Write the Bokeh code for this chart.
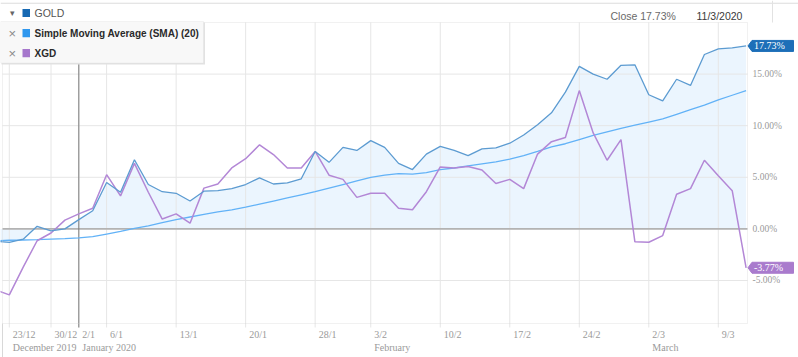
from bokeh.plotting import figure
from bokeh.models import (Range1d, BoxAnnotation, Label, LabelSet, ColumnDataSource,
                          PolyAnnotation)
from bokeh.embed import file_html
from bokeh.resources import INLINE

# ---------------- data ----------------
days = ["20/12", "23/12", "24/12", "27/12", "30/12", "31/12", "2/1", "3/1", "6/1", "7/1",
        "8/1", "9/1", "10/1", "13/1", "14/1", "15/1", "16/1", "17/1", "20/1", "21/1",
        "22/1", "23/1", "24/1", "28/1", "29/1", "30/1", "31/1", "3/2", "4/2", "5/2",
        "6/2", "7/2", "10/2", "11/2", "12/2", "13/2", "14/2", "17/2", "18/2", "19/2",
        "20/2", "21/2", "24/2", "25/2", "26/2", "27/2", "28/2", "2/3", "3/3", "4/3",
        "5/3", "6/3", "9/3", "10/3", "11/3"]

gold = [-1.2, -1.3, -1.0, 0.25, -0.2, 0.0, 0.9, 1.75, 4.5, 3.55,
        6.7, 4.3, 3.6, 3.45, 2.7, 3.65, 3.7, 3.9, 4.3, 4.95,
        4.35, 4.45, 4.85, 7.5, 6.45, 7.9, 7.6, 8.55, 7.9, 6.35,
        5.75, 7.25, 8.0, 7.6, 7.1, 7.75, 7.85, 8.3, 9.1, 10.1,
        11.25, 13.25, 15.75, 15.0, 14.5, 15.85, 15.9, 13.0, 12.4, 14.5,
        13.9, 16.9, 17.45, 17.55, 17.73]

sma = [-1.15, -1.1, -1.08, -1.05, -1.0, -0.95, -0.88, -0.75, -0.5, -0.25,
       0.05, 0.3, 0.6, 0.9, 1.15, 1.4, 1.65, 1.85, 2.1, 2.4,
       2.7, 3.0, 3.3, 3.6, 3.95, 4.3, 4.65, 5.0, 5.2, 5.35,
       5.3, 5.45, 5.75, 5.9, 6.1, 6.3, 6.5, 6.75, 7.1, 7.5,
       7.95, 8.25, 8.65, 9.05, 9.4, 9.75, 10.05, 10.35, 10.65, 11.1,
       11.55, 12.0, 12.5, 12.95, 13.4]

xgd = [-5.9, -6.4, -3.7, -1.15, -0.4, 0.85, 1.45, 2.0, 5.25, 3.2,
       6.35, 3.55, 0.95, 1.45, 0.55, 3.95, 4.35, 5.9, 6.8, 8.15,
       7.2, 5.9, 5.9, 7.5, 5.2, 4.8, 3.05, 3.45, 3.45, 2.0,
       1.85, 3.6, 6.0, 5.9, 6.05, 5.7, 4.4, 4.8, 3.9, 7.25,
       8.45, 8.85, 13.4, 9.3, 6.65, 8.65, -1.25, -1.3, -0.65, 3.35,
       3.9, 6.65, 5.15, 3.7, -3.77]

tick_days = ["23/12", "30/12", "2/1", "6/1", "13/1", "20/1", "28/1", "3/2",
             "10/2", "17/2", "24/2", "2/3", "9/3"]
month_days = ["23/12", "2/1", "3/2", "2/3"]
month_labels = ["December 2019", "January 2020", "February", "March"]
y_ticks = [-5, 0, 5, 10, 15]
series_names = ["GOLD", "Simple Moving Average (SMA) (20)", "XGD"]
close_text = "Close 17.73%"
date_text = "11/3/2020"
crosshair_day = "2/1"

# ---------------- layout constants ----------------
W, H = 798, 357
PL, PR, PT, PB = 2, 747, 22, 323            # plot area edges on the canvas (px)
X_LEFT, X_RIGHT = 0.51, 54.1                # data bounds of the plot area
Y_BOT, Y_TOP = -9.17, 20.0

ppx = (PR - PL) / (X_RIGHT - X_LEFT)
ppy = (PB - PT) / (Y_TOP - Y_BOT)
x_start = X_LEFT - PL / ppx
x_end = X_RIGHT + (W - PR) / ppx
y_end = Y_TOP + PT / ppy
y_start = Y_BOT - (H - PB) / ppy

GOLD_C, SMA_C, XGD_C = "#5c9bd1", "#62b2f7", "#b387d6"
GOLD_SQ, SMA_SQ, XGD_SQ = "#1769b3", "#2f97ee", "#a677cc"
GRID_C = "#e6e6e6"
SANS = "Liberation Sans"
SERIF = "Liberation Serif"


def sx(xc):
    return xc


def sy(yc):
    return H - yc


def box(l, r, t, b, **kw):
    return BoxAnnotation(left=sx(l), right=sx(r), top=sy(t), bottom=sy(b),
                         left_units="screen", right_units="screen",
                         top_units="screen", bottom_units="screen", **kw)


idx = list(range(len(days)))
tick_idx = [days.index(d) for d in tick_days]

p = figure(width=W, height=H, output_backend="svg", toolbar_location=None,
           x_range=Range1d(x_start, x_end), y_range=Range1d(y_start, y_end),
           x_axis_location=None, y_axis_location=None,
           min_border_left=0, min_border_right=0, min_border_top=0, min_border_bottom=0)
p.background_fill_color = "white"
p.border_fill_color = "white"
p.outline_line_color = None
p.xgrid.visible = False
p.ygrid.visible = False

# ---------------- area + grid ----------------
p.varea(x=idx, y1=0, y2=gold, fill_color="#ebf5fe", fill_alpha=1.0)

tick_bottom = Y_BOT - 4 / ppy
p.segment(x0=tick_idx, y0=[tick_bottom] * len(tick_idx), x1=tick_idx,
          y1=[Y_TOP] * len(tick_idx), line_color=GRID_C, line_width=1)
p.segment(x0=[X_LEFT] * len(y_ticks), y0=y_ticks, x1=[X_RIGHT] * len(y_ticks),
          y1=y_ticks, line_color=GRID_C, line_width=1)
# zero line
p.segment(x0=[X_LEFT], y0=[0], x1=[X_RIGHT], y1=[0], line_color="#b3b3b3", line_width=1.6)
# crosshair
ci = days.index(crosshair_day)
p.segment(x0=[ci], y0=[tick_bottom], x1=[ci], y1=[Y_TOP], line_color="#7a7a7a", line_width=1)

# ---------------- series ----------------
p.line(idx, sma, line_color=SMA_C, line_width=1.3)
p.line(idx, xgd, line_color=XGD_C, line_width=1.5)
p.line(idx, gold, line_color=GOLD_C, line_width=1.3)

# plot frame
p.add_layout(BoxAnnotation(left=X_LEFT, right=X_RIGHT, top=Y_TOP, bottom=Y_BOT,
                           fill_alpha=0, line_color="#cfcfcf", line_width=1))
# left page border continues below axis
p.segment(x0=[X_LEFT], y0=[y_start], x1=[X_LEFT], y1=[Y_BOT], line_color="#d8d8d8")

# ---------------- y labels ----------------
yl = ColumnDataSource(dict(x=[X_RIGHT] * len(y_ticks), y=y_ticks,
                           t=["%.2f%%" % v for v in y_ticks]))
p.add_layout(LabelSet(x="x", y="y", text="t", source=yl, x_offset=5,
                      text_font=SERIF, text_font_size="9.5px", text_color="#9a9a9a",
                      text_baseline="middle", text_align="left"))

# ---------------- x labels ----------------
xl = ColumnDataSource(dict(x=tick_idx, y=[Y_BOT] * len(tick_idx), t=tick_days))
p.add_layout(LabelSet(x="x", y="y", text="t", source=xl, x_offset=3.5, y_offset=-11,
                      text_font=SERIF, text_font_size="10px", text_color="#9a9a9a",
                      text_baseline="middle", text_align="left"))
ml = ColumnDataSource(dict(x=[days.index(d) for d in month_days],
                           y=[Y_BOT] * len(month_days), t=month_labels))
p.add_layout(LabelSet(x="x", y="y", text="t", source=ml, x_offset=3.5, y_offset=-23.5,
                      text_font=SERIF, text_font_size="10px", text_color="#9a9a9a",
                      text_baseline="middle", text_align="left"))

# ---------------- value tags ----------------
for val, col in [(gold[-1], "#1d6fb8"), (xgd[-1], "#a97bcd")]:
    xs = [X_RIGHT + 0.5 / ppx, X_RIGHT + 4.5 / ppx, X_RIGHT + 46 / ppx,
          X_RIGHT + 46 / ppx, X_RIGHT + 4.5 / ppx]
    ys = [val, val + 5.5 / ppy, val + 5.5 / ppy, val - 5.5 / ppy, val - 5.5 / ppy]
    p.add_layout(PolyAnnotation(xs=xs, ys=ys, fill_color=col, fill_alpha=1.0,
                                line_color=col, line_alpha=1.0))
    p.add_layout(Label(x=X_RIGHT, y=val, x_offset=6.5, text="%.2f%%" % val,
                       text_color="white", text_font=SERIF, text_font_size="10px",
                       text_baseline="middle", text_align="left"))

# ---------------- header ----------------
p.add_layout(box(0, W, 2.3, 3.3, fill_color="#dcdcdc", fill_alpha=1.0, line_color=None))
p.add_layout(box(771.5, 772.5, 0, PT, fill_color="#e2e2e2", fill_alpha=1.0, line_color=None))
p.add_layout(Label(x=sx(9), y=sy(12.5), x_units="screen", y_units="screen", text="▾",
                   text_font=SANS, text_font_size="9px", text_color="#666666",
                   text_baseline="middle"))
p.add_layout(box(22, 29.5, 8.5, 16.5, fill_color=GOLD_SQ, fill_alpha=1.0, line_color=None))
p.add_layout(Label(x=sx(34), y=sy(12.7), x_units="screen", y_units="screen",
                   text=series_names[0], text_font=SANS, text_font_size="10.5px",
                   text_color="#555555", text_baseline="middle"))
p.add_layout(Label(x=sx(610), y=sy(15), x_units="screen", y_units="screen",
                   text=close_text, text_font=SANS, text_font_size="10.5px",
                   text_color="#6a6a6a", text_baseline="middle"))
p.add_layout(Label(x=sx(696), y=sy(15), x_units="screen", y_units="screen",
                   text=date_text, text_font=SANS, text_font_size="10.5px",
                   text_color="#3a3a3a", text_baseline="middle"))

# legend box (with soft shadow)
p.add_layout(box(1, 204.5, 22, 64, fill_color="#e2e2e2", fill_alpha=1.0, line_color=None))
p.add_layout(box(0, 203, 21, 62.5, fill_color="#f8f8f8", fill_alpha=1.0,
                 line_color="#dddddd", line_width=1))
for (name, sq, yc) in [(series_names[1], SMA_SQ, 32.7), (series_names[2], XGD_SQ, 52.7)]:
    p.add_layout(Label(x=sx(8), y=sy(yc), x_units="screen", y_units="screen", text="×",
                       text_font=SANS, text_font_size="13px", text_color="#8a8a8a",
                       text_baseline="middle"))
    p.add_layout(box(22, 29.5, yc - 4.2, yc + 4.0, fill_color=sq, fill_alpha=1.0,
                     line_color=None))
    p.add_layout(Label(x=sx(34), y=sy(yc), x_units="screen", y_units="screen", text=name,
                       text_font=SANS, text_font_size="10px", text_color="#2a2a2a",
                       text_font_style="bold", text_baseline="middle"))

open("out.html", "w").write(file_html(p, INLINE))
